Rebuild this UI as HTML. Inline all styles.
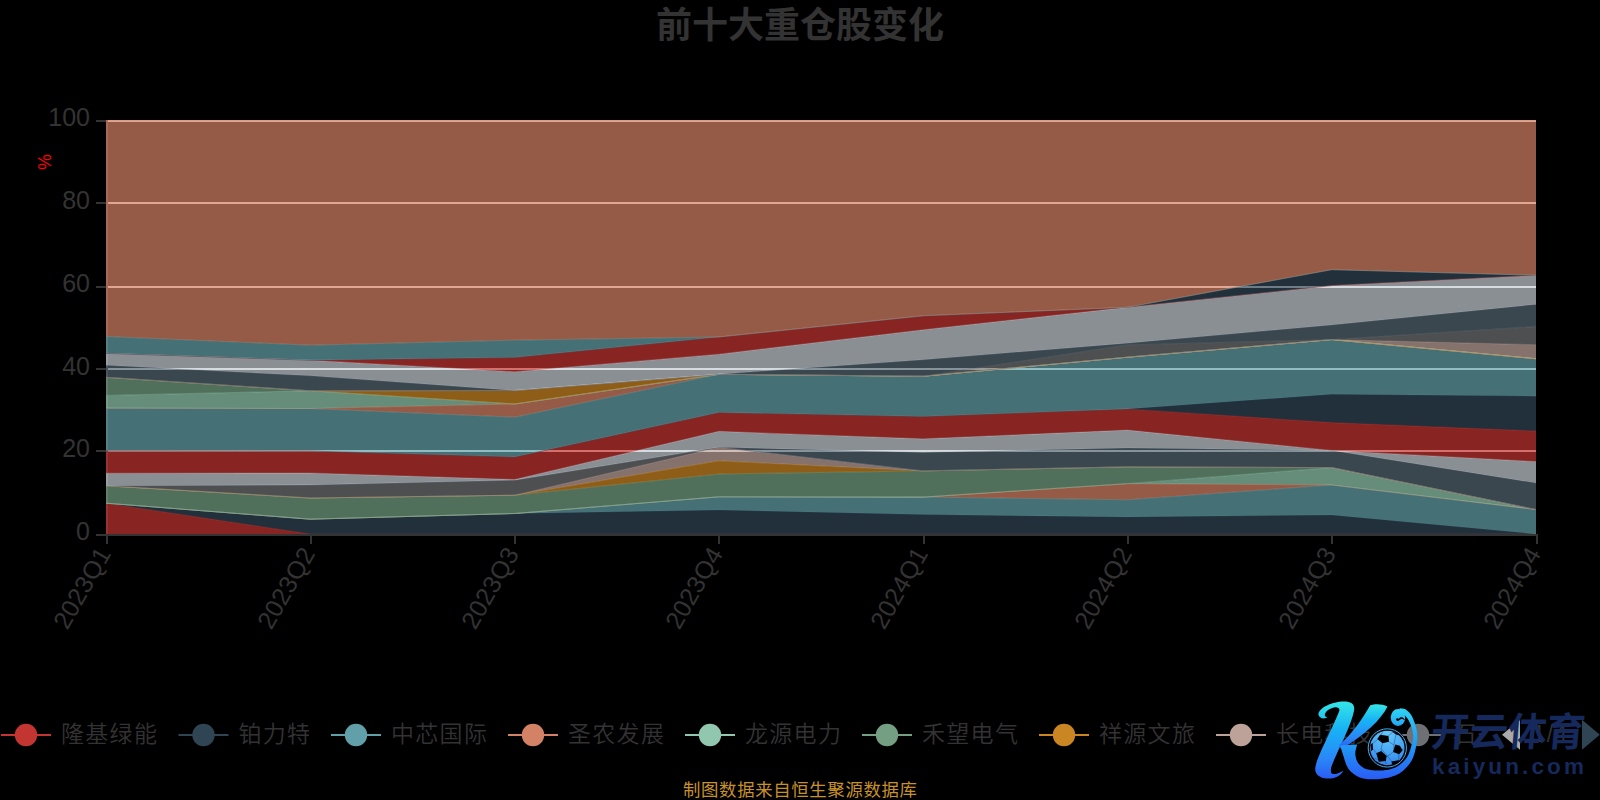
<!DOCTYPE html>
<html lang="zh-CN">
<head>
<meta charset="utf-8">
<title>前十大重仓股变化</title>
<style>
html,body{margin:0;padding:0;background:#000;}
body{width:1600px;height:800px;overflow:hidden;position:relative;font-family:"Liberation Sans","Noto Sans CJK SC",sans-serif;}
svg{position:absolute;left:0;top:0;display:block}
text{font-family:"Liberation Sans","Noto Sans CJK SC",sans-serif;}
.ax{font-size:25px;fill:#333;}
.lg{font-size:23px;fill:#333;font-weight:350;letter-spacing:1.3px;}
.title{font-size:36px;font-weight:bold;fill:#333;}
.src{font-size:17.4px;fill:#c8922a;letter-spacing:0.65px;}
</style>
</head>
<body>
<svg width="1600" height="800" viewBox="0 0 1600 800">
<defs>
<clipPath id="gridclip"><rect x="106" y="120" width="1430" height="415"/></clipPath>
<clipPath id="legclip"><rect x="0" y="700" width="1482" height="70"/></clipPath>
<linearGradient id="kg" x1="0" y1="0" x2="0" y2="1">
<stop offset="0" stop-color="#35e6e6"/><stop offset="0.35" stop-color="#17b4f5"/><stop offset="0.75" stop-color="#2a86f7"/><stop offset="1" stop-color="#2a5cf5"/>
</linearGradient>
<linearGradient id="kg2" x1="0" y1="0" x2="0" y2="1">
<stop offset="0" stop-color="#2fd2f2"/><stop offset="0.5" stop-color="#1f9cf5"/><stop offset="1" stop-color="#2a5cf5"/>
</linearGradient>
<linearGradient id="kg3" x1="0" y1="0" x2="0" y2="1"><stop offset="0" stop-color="#30d6f4"/><stop offset="1" stop-color="#22a6f6"/></linearGradient>
<radialGradient id="ballg" cx="0.5" cy="0.1" r="0.95">
<stop offset="0" stop-color="#66c8fa"/><stop offset="0.6" stop-color="#46a4f3"/><stop offset="1" stop-color="#3380ec"/>
</radialGradient>
</defs>
<rect width="1600" height="800" fill="#000"/>
<text x="800" y="25" text-anchor="middle" dominant-baseline="central" class="title">前十大重仓股变化</text>
<!-- split lines -->
<rect x="106.0" y="450" width="1430.0" height="2" fill="#fff"/>
<rect x="106.0" y="368" width="1430.0" height="2" fill="#fff"/>
<rect x="106.0" y="286" width="1430.0" height="2" fill="#fff"/>
<rect x="106.0" y="202" width="1430.0" height="2" fill="#fff"/>
<rect x="106.0" y="120" width="1430.0" height="2" fill="#fff"/>
<!-- y axis line -->
<rect x="106" y="120" width="2" height="414" fill="#333"/>
<!-- series -->
<g clip-path="url(#gridclip)">
<polygon points="106,503.2 310.29,534 514.57,534 718.86,534 923.14,534 1127.43,534 1331.71,534 1536,534 1536,534 1331.71,534 1127.43,534 923.14,534 718.86,534 514.57,534 310.29,534 106,534" fill="#c23531" fill-opacity="0.7"/>
<polyline points="106,503.2 310.29,534 514.57,534 718.86,534 923.14,534 1127.43,534 1331.71,534 1536,534" fill="none" stroke="#c23531" stroke-width="1" stroke-opacity="0.55"/>
<polygon points="106,503.2 310.29,519.2 514.57,513.5 718.86,510 923.14,514.6 1127.43,516.9 1331.71,515 1536,534 1536,534 1331.71,534 1127.43,534 923.14,534 718.86,534 514.57,534 310.29,534 106,503.2" fill="#2f4554" fill-opacity="0.7"/>
<polyline points="106,503.2 310.29,519.2 514.57,513.5 718.86,510 923.14,514.6 1127.43,516.9 1331.71,515 1536,534" fill="none" stroke="#2f4554" stroke-width="1" stroke-opacity="0.55"/>
<polygon points="106,503.2 310.29,519.2 514.57,513.5 718.86,496.8 923.14,497.1 1127.43,499.75 1331.71,485 1536,509.6 1536,534 1331.71,515 1127.43,516.9 923.14,514.6 718.86,510 514.57,513.5 310.29,519.2 106,503.2" fill="#61a0a8" fill-opacity="0.7"/>
<polyline points="106,503.2 310.29,519.2 514.57,513.5 718.86,496.8 923.14,497.1 1127.43,499.75 1331.71,485 1536,509.6" fill="none" stroke="#61a0a8" stroke-width="1" stroke-opacity="0.55"/>
<polygon points="106,503.2 310.29,519.2 514.57,513.5 718.86,496.8 923.14,497.1 1127.43,483.65 1331.71,485 1536,509.6 1536,509.6 1331.71,485 1127.43,499.75 923.14,497.1 718.86,496.8 514.57,513.5 310.29,519.2 106,503.2" fill="#d48265" fill-opacity="0.7"/>
<polyline points="106,503.2 310.29,519.2 514.57,513.5 718.86,496.8 923.14,497.1 1127.43,483.65 1331.71,485 1536,509.6" fill="none" stroke="#d48265" stroke-width="1" stroke-opacity="0.55"/>
<polygon points="106,503.2 310.29,519.2 514.57,513.5 718.86,496.8 923.14,497.1 1127.43,483.65 1331.71,467.6 1536,509.6 1536,509.6 1331.71,485 1127.43,483.65 923.14,497.1 718.86,496.8 514.57,513.5 310.29,519.2 106,503.2" fill="#91c7ae" fill-opacity="0.7"/>
<polyline points="106,503.2 310.29,519.2 514.57,513.5 718.86,496.8 923.14,497.1 1127.43,483.65 1331.71,467.6 1536,509.6" fill="none" stroke="#91c7ae" stroke-width="1" stroke-opacity="0.55"/>
<polygon points="106,485.8 310.29,498 514.57,495.2 718.86,474 923.14,470.9 1127.43,466.85 1331.71,467.6 1536,509.6 1536,509.6 1331.71,467.6 1127.43,483.65 923.14,497.1 718.86,496.8 514.57,513.5 310.29,519.2 106,503.2" fill="#749f83" fill-opacity="0.7"/>
<polyline points="106,485.8 310.29,498 514.57,495.2 718.86,474 923.14,470.9 1127.43,466.85 1331.71,467.6 1536,509.6" fill="none" stroke="#749f83" stroke-width="1" stroke-opacity="0.55"/>
<polygon points="106,485.8 310.29,498 514.57,495.2 718.86,460.8 923.14,470.9 1127.43,466.85 1331.71,467.6 1536,509.6 1536,509.6 1331.71,467.6 1127.43,466.85 923.14,470.9 718.86,474 514.57,495.2 310.29,498 106,485.8" fill="#ca8622" fill-opacity="0.7"/>
<polyline points="106,485.8 310.29,498 514.57,495.2 718.86,460.8 923.14,470.9 1127.43,466.85 1331.71,467.6 1536,509.6" fill="none" stroke="#ca8622" stroke-width="1" stroke-opacity="0.55"/>
<polygon points="106,485.8 310.29,498 514.57,495.2 718.86,447.3 923.14,470.9 1127.43,466.85 1331.71,467.6 1536,509.6 1536,509.6 1331.71,467.6 1127.43,466.85 923.14,470.9 718.86,460.8 514.57,495.2 310.29,498 106,485.8" fill="#bda29a" fill-opacity="0.7"/>
<polyline points="106,485.8 310.29,498 514.57,495.2 718.86,447.3 923.14,470.9 1127.43,466.85 1331.71,467.6 1536,509.6" fill="none" stroke="#bda29a" stroke-width="1" stroke-opacity="0.55"/>
<polygon points="106,485.8 310.29,485 514.57,480.2 718.86,447.3 923.14,470.9 1127.43,466.85 1331.71,467.6 1536,509.6 1536,509.6 1331.71,467.6 1127.43,466.85 923.14,470.9 718.86,447.3 514.57,495.2 310.29,498 106,485.8" fill="#6e7074" fill-opacity="0.7"/>
<polyline points="106,485.8 310.29,485 514.57,480.2 718.86,447.3 923.14,470.9 1127.43,466.85 1331.71,467.6 1536,509.6" fill="none" stroke="#6e7074" stroke-width="1" stroke-opacity="0.55"/>
<polygon points="106,485.8 310.29,485 514.57,480.2 718.86,447.3 923.14,452.5 1127.43,448.1 1331.71,450.4 1536,483 1536,509.6 1331.71,467.6 1127.43,466.85 923.14,470.9 718.86,447.3 514.57,480.2 310.29,485 106,485.8" fill="#546570" fill-opacity="0.7"/>
<polyline points="106,485.8 310.29,485 514.57,480.2 718.86,447.3 923.14,452.5 1127.43,448.1 1331.71,450.4 1536,483" fill="none" stroke="#546570" stroke-width="1" stroke-opacity="0.55"/>
<polygon points="106,473.2 310.29,473 514.57,479.5 718.86,431.3 923.14,438.85 1127.43,430.1 1331.71,450.4 1536,461.6 1536,483 1331.71,450.4 1127.43,448.1 923.14,452.5 718.86,447.3 514.57,480.2 310.29,485 106,485.8" fill="#c4ccd3" fill-opacity="0.7"/>
<polyline points="106,473.2 310.29,473 514.57,479.5 718.86,431.3 923.14,438.85 1127.43,430.1 1331.71,450.4 1536,461.6" fill="none" stroke="#c4ccd3" stroke-width="1" stroke-opacity="0.55"/>
<polygon points="106,450.7 310.29,451 514.57,457 718.86,412.5 923.14,416.6 1127.43,408.9 1331.71,422.6 1536,431 1536,461.6 1331.71,450.4 1127.43,430.1 923.14,438.85 718.86,431.3 514.57,479.5 310.29,473 106,473.2" fill="#c23531" fill-opacity="0.7"/>
<polyline points="106,450.7 310.29,451 514.57,457 718.86,412.5 923.14,416.6 1127.43,408.9 1331.71,422.6 1536,431" fill="none" stroke="#c23531" stroke-width="1" stroke-opacity="0.55"/>
<polygon points="106,450.7 310.29,451 514.57,457 718.86,412.5 923.14,416.6 1127.43,408.9 1331.71,394.2 1536,396.2 1536,431 1331.71,422.6 1127.43,408.9 923.14,416.6 718.86,412.5 514.57,457 310.29,451 106,450.7" fill="#2f4554" fill-opacity="0.7"/>
<polyline points="106,450.7 310.29,451 514.57,457 718.86,412.5 923.14,416.6 1127.43,408.9 1331.71,394.2 1536,396.2" fill="none" stroke="#2f4554" stroke-width="1" stroke-opacity="0.55"/>
<polygon points="106,408.2 310.29,408.5 514.57,417.2 718.86,374.3 923.14,376.25 1127.43,357.2 1331.71,339.6 1536,358.75 1536,396.2 1331.71,394.2 1127.43,408.9 923.14,416.6 718.86,412.5 514.57,457 310.29,451 106,450.7" fill="#61a0a8" fill-opacity="0.7"/>
<polyline points="106,408.2 310.29,408.5 514.57,417.2 718.86,374.3 923.14,376.25 1127.43,357.2 1331.71,339.6 1536,358.75" fill="none" stroke="#61a0a8" stroke-width="1" stroke-opacity="0.55"/>
<polygon points="106,408.2 310.29,408.5 514.57,404 718.86,374.3 923.14,376.25 1127.43,357.2 1331.71,339.6 1536,358.75 1536,358.75 1331.71,339.6 1127.43,357.2 923.14,376.25 718.86,374.3 514.57,417.2 310.29,408.5 106,408.2" fill="#d48265" fill-opacity="0.7"/>
<polyline points="106,408.2 310.29,408.5 514.57,404 718.86,374.3 923.14,376.25 1127.43,357.2 1331.71,339.6 1536,358.75" fill="none" stroke="#d48265" stroke-width="1" stroke-opacity="0.55"/>
<polygon points="106,395.4 310.29,390.8 514.57,404 718.86,374.3 923.14,376.25 1127.43,357.2 1331.71,339.6 1536,358.75 1536,358.75 1331.71,339.6 1127.43,357.2 923.14,376.25 718.86,374.3 514.57,404 310.29,408.5 106,408.2" fill="#91c7ae" fill-opacity="0.7"/>
<polyline points="106,395.4 310.29,390.8 514.57,404 718.86,374.3 923.14,376.25 1127.43,357.2 1331.71,339.6 1536,358.75" fill="none" stroke="#91c7ae" stroke-width="1" stroke-opacity="0.55"/>
<polygon points="106,377.3 310.29,390.8 514.57,404 718.86,374.3 923.14,376.25 1127.43,357.2 1331.71,339.6 1536,358.75 1536,358.75 1331.71,339.6 1127.43,357.2 923.14,376.25 718.86,374.3 514.57,404 310.29,390.8 106,395.4" fill="#749f83" fill-opacity="0.7"/>
<polyline points="106,377.3 310.29,390.8 514.57,404 718.86,374.3 923.14,376.25 1127.43,357.2 1331.71,339.6 1536,358.75" fill="none" stroke="#749f83" stroke-width="1" stroke-opacity="0.55"/>
<polygon points="106,377.3 310.29,390.8 514.57,390.5 718.86,374.3 923.14,376.25 1127.43,357.2 1331.71,339.6 1536,358.75 1536,358.75 1331.71,339.6 1127.43,357.2 923.14,376.25 718.86,374.3 514.57,404 310.29,390.8 106,377.3" fill="#ca8622" fill-opacity="0.7"/>
<polyline points="106,377.3 310.29,390.8 514.57,390.5 718.86,374.3 923.14,376.25 1127.43,357.2 1331.71,339.6 1536,358.75" fill="none" stroke="#ca8622" stroke-width="1" stroke-opacity="0.55"/>
<polygon points="106,377.3 310.29,390.8 514.57,390.5 718.86,374.3 923.14,376.25 1127.43,357.2 1331.71,339.6 1536,344.7 1536,358.75 1331.71,339.6 1127.43,357.2 923.14,376.25 718.86,374.3 514.57,390.5 310.29,390.8 106,377.3" fill="#bda29a" fill-opacity="0.7"/>
<polyline points="106,377.3 310.29,390.8 514.57,390.5 718.86,374.3 923.14,376.25 1127.43,357.2 1331.71,339.6 1536,344.7" fill="none" stroke="#bda29a" stroke-width="1" stroke-opacity="0.55"/>
<polygon points="106,377.3 310.29,390.8 514.57,390.5 718.86,374.3 923.14,376.25 1127.43,344.9 1331.71,339.6 1536,326.5 1536,344.7 1331.71,339.6 1127.43,357.2 923.14,376.25 718.86,374.3 514.57,390.5 310.29,390.8 106,377.3" fill="#6e7074" fill-opacity="0.7"/>
<polyline points="106,377.3 310.29,390.8 514.57,390.5 718.86,374.3 923.14,376.25 1127.43,344.9 1331.71,339.6 1536,326.5" fill="none" stroke="#6e7074" stroke-width="1" stroke-opacity="0.55"/>
<polygon points="106,365.3 310.29,375.8 514.57,390.5 718.86,374.3 923.14,359.75 1127.43,343.2 1331.71,325 1536,304.4 1536,326.5 1331.71,339.6 1127.43,344.9 923.14,376.25 718.86,374.3 514.57,390.5 310.29,390.8 106,377.3" fill="#546570" fill-opacity="0.7"/>
<polyline points="106,365.3 310.29,375.8 514.57,390.5 718.86,374.3 923.14,359.75 1127.43,343.2 1331.71,325 1536,304.4" fill="none" stroke="#546570" stroke-width="1" stroke-opacity="0.55"/>
<polygon points="106,353.3 310.29,360.2 514.57,371.7 718.86,354.2 923.14,329.75 1127.43,307.3 1331.71,285.6 1536,275.3 1536,304.4 1331.71,325 1127.43,343.2 923.14,359.75 718.86,374.3 514.57,390.5 310.29,375.8 106,365.3" fill="#c4ccd3" fill-opacity="0.7"/>
<polyline points="106,353.3 310.29,360.2 514.57,371.7 718.86,354.2 923.14,329.75 1127.43,307.3 1331.71,285.6 1536,275.3" fill="none" stroke="#c4ccd3" stroke-width="1" stroke-opacity="0.55"/>
<polygon points="106,353.3 310.29,360.2 514.57,357.5 718.86,337 923.14,315.8 1127.43,307.3 1331.71,285.6 1536,275.3 1536,275.3 1331.71,285.6 1127.43,307.3 923.14,329.75 718.86,354.2 514.57,371.7 310.29,360.2 106,353.3" fill="#c23531" fill-opacity="0.7"/>
<polyline points="106,353.3 310.29,360.2 514.57,357.5 718.86,337 923.14,315.8 1127.43,307.3 1331.71,285.6 1536,275.3" fill="none" stroke="#c23531" stroke-width="1" stroke-opacity="0.55"/>
<polygon points="106,353.3 310.29,360.2 514.57,357.5 718.86,337 923.14,315.8 1127.43,307.3 1331.71,269.7 1536,275.3 1536,275.3 1331.71,285.6 1127.43,307.3 923.14,315.8 718.86,337 514.57,357.5 310.29,360.2 106,353.3" fill="#2f4554" fill-opacity="0.7"/>
<polyline points="106,353.3 310.29,360.2 514.57,357.5 718.86,337 923.14,315.8 1127.43,307.3 1331.71,269.7 1536,275.3" fill="none" stroke="#2f4554" stroke-width="1" stroke-opacity="0.55"/>
<polygon points="106,336.5 310.29,345.2 514.57,340.2 718.86,337 923.14,315.8 1127.43,307.3 1331.71,269.7 1536,275.3 1536,275.3 1331.71,269.7 1127.43,307.3 923.14,315.8 718.86,337 514.57,357.5 310.29,360.2 106,353.3" fill="#61a0a8" fill-opacity="0.7"/>
<polyline points="106,336.5 310.29,345.2 514.57,340.2 718.86,337 923.14,315.8 1127.43,307.3 1331.71,269.7 1536,275.3" fill="none" stroke="#61a0a8" stroke-width="1" stroke-opacity="0.55"/>
<polygon points="106,120 310.29,120 514.57,120 718.86,120 923.14,120 1127.43,120 1331.71,120 1536,120 1536,275.3 1331.71,269.7 1127.43,307.3 923.14,315.8 718.86,337 514.57,340.2 310.29,345.2 106,336.5" fill="#d48265" fill-opacity="0.7"/>
<polyline points="106,120 310.29,120 514.57,120 718.86,120 923.14,120 1127.43,120 1331.71,120 1536,120" fill="none" stroke="#d48265" stroke-width="1" stroke-opacity="0.55"/>
</g>
<!-- x axis line -->
<rect x="106" y="534" width="1431" height="2" fill="#333"/>
<rect x="96" y="534" width="10" height="2" fill="#333"/>
<text x="90" y="531.2" text-anchor="end" dominant-baseline="central" class="ax">0</text>
<rect x="96" y="450" width="10" height="2" fill="#333"/>
<text x="90" y="448.4" text-anchor="end" dominant-baseline="central" class="ax">20</text>
<rect x="96" y="368" width="10" height="2" fill="#333"/>
<text x="90" y="365.6" text-anchor="end" dominant-baseline="central" class="ax">40</text>
<rect x="96" y="286" width="10" height="2" fill="#333"/>
<text x="90" y="282.8" text-anchor="end" dominant-baseline="central" class="ax">60</text>
<rect x="96" y="202" width="10" height="2" fill="#333"/>
<text x="90" y="200" text-anchor="end" dominant-baseline="central" class="ax">80</text>
<rect x="96" y="120" width="10" height="2" fill="#333"/>
<text x="90" y="117.2" text-anchor="end" dominant-baseline="central" class="ax">100</text>
<rect x="106" y="534" width="2" height="10" fill="#333"/>
<text x="0" y="-3.6" text-anchor="end" dominant-baseline="central" class="ax" transform="translate(107 551) rotate(-60)">2023Q1</text>
<rect x="310" y="534" width="2" height="10" fill="#333"/>
<text x="0" y="-3.6" text-anchor="end" dominant-baseline="central" class="ax" transform="translate(311 551) rotate(-60)">2023Q2</text>
<rect x="514" y="534" width="2" height="10" fill="#333"/>
<text x="0" y="-3.6" text-anchor="end" dominant-baseline="central" class="ax" transform="translate(515 551) rotate(-60)">2023Q3</text>
<rect x="718" y="534" width="2" height="10" fill="#333"/>
<text x="0" y="-3.6" text-anchor="end" dominant-baseline="central" class="ax" transform="translate(719 551) rotate(-60)">2023Q4</text>
<rect x="923" y="534" width="2" height="10" fill="#333"/>
<text x="0" y="-3.6" text-anchor="end" dominant-baseline="central" class="ax" transform="translate(924 551) rotate(-60)">2024Q1</text>
<rect x="1127" y="534" width="2" height="10" fill="#333"/>
<text x="0" y="-3.6" text-anchor="end" dominant-baseline="central" class="ax" transform="translate(1128 551) rotate(-60)">2024Q2</text>
<rect x="1331" y="534" width="2" height="10" fill="#333"/>
<text x="0" y="-3.6" text-anchor="end" dominant-baseline="central" class="ax" transform="translate(1332 551) rotate(-60)">2024Q3</text>
<rect x="1536" y="534" width="2" height="10" fill="#333"/>
<text x="0" y="-3.6" text-anchor="end" dominant-baseline="central" class="ax" transform="translate(1537 551) rotate(-60)">2024Q4</text>
<text x="44.5" y="162" text-anchor="middle" dominant-baseline="central" font-size="17.5" fill="#f00" transform="rotate(-90 44.5 162)">%</text>
<!-- legend -->
<g clip-path="url(#legclip)">
<rect x="1" y="734" width="50" height="2" fill="#c23531"/><circle cx="26" cy="735" r="11.2" fill="#c23531"/><text x="61" y="734" dominant-baseline="central" class="lg">隆基绿能</text>
<rect x="178.5" y="734" width="50" height="2" fill="#2f4554"/><circle cx="203.5" cy="735" r="11.2" fill="#2f4554"/><text x="238.5" y="734" dominant-baseline="central" class="lg">铂力特</text>
<rect x="331" y="734" width="50" height="2" fill="#61a0a8"/><circle cx="356" cy="735" r="11.2" fill="#61a0a8"/><text x="391" y="734" dominant-baseline="central" class="lg">中芯国际</text>
<rect x="508" y="734" width="50" height="2" fill="#d48265"/><circle cx="533" cy="735" r="11.2" fill="#d48265"/><text x="568" y="734" dominant-baseline="central" class="lg">圣农发展</text>
<rect x="685" y="734" width="50" height="2" fill="#91c7ae"/><circle cx="710" cy="735" r="11.2" fill="#91c7ae"/><text x="745" y="734" dominant-baseline="central" class="lg">龙源电力</text>
<rect x="862" y="734" width="50" height="2" fill="#749f83"/><circle cx="887" cy="735" r="11.2" fill="#749f83"/><text x="922" y="734" dominant-baseline="central" class="lg">禾望电气</text>
<rect x="1039" y="734" width="50" height="2" fill="#ca8622"/><circle cx="1064" cy="735" r="11.2" fill="#ca8622"/><text x="1099" y="734" dominant-baseline="central" class="lg">祥源文旅</text>
<rect x="1216" y="734" width="50" height="2" fill="#bda29a"/><circle cx="1241" cy="735" r="11.2" fill="#bda29a"/><text x="1276" y="734" dominant-baseline="central" class="lg">长电科技</text>
<rect x="1393" y="734" width="50" height="2" fill="#6e7074"/><circle cx="1418" cy="735" r="11.2" fill="#6e7074"/><text x="1453" y="734" dominant-baseline="central" class="lg">石头科技</text>
</g>
<polygon points="1502,734.7 1520,719.7 1520,749.7" fill="#aaa"/>
<polygon points="1599.8,734.7 1582,719.7 1582,749.7" fill="#2f4554"/>
<text x="1550.5" y="734" text-anchor="middle" dominant-baseline="central" class="lg">1/4</text>
<text x="800.3" y="790.2" text-anchor="middle" dominant-baseline="central" class="src">制图数据来自恒生聚源数据库</text>
<g id="logo">
<g transform="translate(1300 690) scale(0.125)">
<!-- K left stroke -->
<path fill="url(#kg)" d="M222 214 C205 232 160 235 148 200 C140 150 250 92 350 92 C415 92 442 120 432 165 C415 260 335 420 290 520 C262 585 238 630 250 662 C258 685 305 668 348 645 C322 690 270 712 215 708 C150 705 112 668 124 612 C142 520 250 330 314 168 C322 146 300 134 272 140 C228 150 192 182 200 205 C204 216 214 216 222 214 Z"/>
<!-- K upper arm -->
<path fill="url(#kg)" d="M562 122 C600 108 660 110 700 132 C650 235 520 360 330 472 L312 442 C420 350 500 230 562 122 Z"/>
<!-- K leg + swoosh -->
<path fill="url(#kg2)" d="M320 444 L322 449 L325 457 L328 467 L332 478 L335 491 L340 504 L344 517 L348 530 L352 541 L355 553 L359 565 L363 578 L367 591 L373 604 L380 618 L388 631 L397 642 L407 653 L418 662 L429 671 L441 680 L453 687 L465 694 L478 699 L492 704 L505 708 L519 710 L532 712 L545 713 L558 714 L571 714 L583 714 L597 714 L611 713 L625 713 L640 712 L654 710 L668 708 L682 706 L695 704 L708 701 L720 698 L732 694 L744 690 L756 686 L767 681 L778 676 L788 671 L799 665 L808 658 L818 651 L827 644 L835 636 L843 628 L851 620 L858 612 L865 604 L872 596 L878 587 L884 578 L890 569 L895 560 L900 550 L905 539 L909 528 L913 516 L917 503 L920 491 L923 478 L926 466 L928 455 L930 444 L932 434 L934 425 L935 416 L937 407 L938 398 L938 389 L939 379 L938 370 L938 359 L937 349 L936 338 L934 327 L932 317 L930 306 L927 295 L924 285 L921 275 L918 264 L914 253 L910 243 L906 232 L901 222 L897 213 L892 204 L887 196 L882 189 L876 182 L870 176 L864 170 L858 165 L852 160 L846 156 L838 152 L829 149 L822 148 L814 147 L808 147 L803 146 L800 146 L797 146 L793 190 L797 190 L801 191 L806 191 L811 191 L815 192 L819 192 L822 193 L824 194 L828 196 L832 199 L836 202 L841 206 L845 210 L849 215 L854 220 L858 226 L862 232 L867 240 L872 248 L876 257 L881 267 L885 276 L888 286 L892 295 L895 304 L897 314 L900 323 L902 333 L903 343 L904 352 L905 362 L906 370 L905 379 L905 386 L904 394 L903 402 L901 409 L899 418 L897 426 L894 436 L891 446 L888 457 L885 468 L881 480 L877 491 L873 502 L869 512 L865 521 L860 529 L856 537 L851 544 L846 552 L840 558 L834 565 L828 571 L822 578 L815 584 L808 590 L801 596 L793 601 L786 606 L778 611 L770 615 L762 619 L753 623 L744 626 L735 629 L726 632 L716 635 L706 637 L695 639 L685 640 L673 642 L661 643 L649 643 L636 644 L623 644 L610 644 L598 643 L587 642 L575 641 L564 639 L553 638 L544 636 L535 634 L526 631 L519 628 L512 625 L505 620 L497 616 L490 610 L483 604 L477 598 L471 592 L466 585 L462 579 L459 574 L456 567 L452 559 L449 550 L447 541 L445 531 L443 520 L442 510 L442 501 L443 492 L445 482 L448 471 L450 461 L453 452 L455 443 L456 436 Z"/>
<ellipse cx="784" cy="220" rx="58" ry="68" fill="url(#kg3)"/>
<path fill="#000" d="M769 236 C769 224 786 222 790 232 C796 218 816 212 830 226 C836 232 838 240 836 244 C828 230 808 228 796 240 C790 250 770 250 769 236 Z"/>
<!-- ball -->
<circle cx="698.5" cy="463.5" r="160" fill="#000"/>
<circle cx="698.5" cy="463.5" r="153" fill="none" stroke="#45aef4" stroke-width="8"/>
<circle cx="698.5" cy="463.5" r="138" fill="url(#ballg)"/>
<g fill="#000">
<polygon points="641,357 708,367 712,413 660,425 618,391"/>
<polygon points="762,436 799,446 821,482 793,514 744,495"/>
<polygon points="610,506 650,488 693,527 687,567 630,573"/>
<polygon points="738,333 777,342 797,363 768,355"/>
<polygon points="564,437 581,422 584,473 569,490"/>
<polygon points="731,572 797,560 772,588 737,593"/>
</g>
<g fill="none" stroke="#0a2a6a" stroke-width="4" opacity="0.75">
<path d="M661 419 L650 470 L651 496 M704 409 L751 440 L751 491 M751 491 L700 530 L686 528 M650 470 L700 530 M627 391 L585 425 M646 363 L660 338 M701 371 L744 336 M768 354 L751 440 M814 481 L828 470 M791 507 L790 563 M736 573 L700 530 M681 561 L690 592 M634 566 L600 545 M618 511 L582 470"/>
</g>
</g>
<!-- text -->
<g fill="#16295c">
<text x="0" y="0" font-size="39.5" font-weight="700" textLength="154" lengthAdjust="spacingAndGlyphs" transform="translate(1430 745.5) skewX(-5)" style="font-family:'Liberation Sans','Noto Sans CJK SC',sans-serif">开云体育</text>
<text x="1432" y="773.6" font-size="22.5" font-weight="bold" textLength="152" lengthAdjust="spacing" style="font-family:'Liberation Sans',sans-serif">kaiyun.com</text>
</g>
</g>
</svg>
</body>
</html>
